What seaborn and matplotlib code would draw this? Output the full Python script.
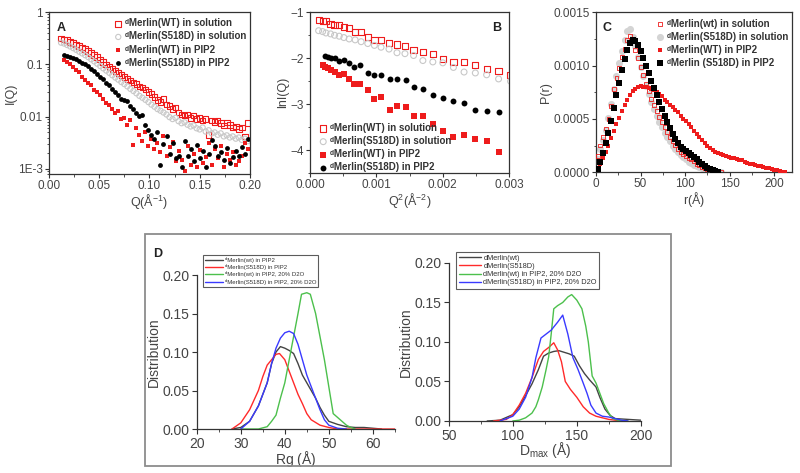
import matplotlib
matplotlib.use("Agg")
import matplotlib.pyplot as plt
import seaborn as sns
from matplotlib.patches import Rectangle
from matplotlib.ticker import AutoMinorLocator, MultipleLocator

# ---------------------- Data ---------------------- #

# Panel A: I(Q) vs Q (log scale)
q_vals = [0.012, 0.015, 0.018, 0.021, 0.024, 0.027, 0.030, 0.033, 0.036, 0.039,
          0.042, 0.045, 0.048, 0.051, 0.054, 0.057, 0.060, 0.063, 0.066, 0.069,
          0.072, 0.075, 0.078, 0.081, 0.084, 0.087, 0.090, 0.093, 0.096, 0.099,
          0.102, 0.105, 0.108, 0.111, 0.114, 0.117, 0.120, 0.123, 0.126, 0.129,
          0.132, 0.135, 0.138, 0.141, 0.144, 0.147, 0.150, 0.153, 0.156, 0.159,
          0.162, 0.165, 0.168, 0.171, 0.174, 0.177, 0.180, 0.183, 0.186, 0.189,
          0.192, 0.195, 0.198]
iq_wt_sol = [0.31, 0.30, 0.29, 0.27, 0.255, 0.24, 0.225, 0.21, 0.195, 0.18,
             0.165, 0.15, 0.138, 0.125, 0.112, 0.10, 0.09, 0.082, 0.074, 0.068,
             0.062, 0.058, 0.053, 0.049, 0.045, 0.042, 0.038, 0.036, 0.033, 0.030,
             0.027, 0.024, 0.021, 0.019, 0.022, 0.017, 0.016, 0.014, 0.015, 0.012,
             0.011, 0.0105, 0.011, 0.0095, 0.0105, 0.009, 0.0095, 0.0085, 0.009, 0.0045,
             0.0085, 0.008, 0.0085, 0.0075, 0.0068, 0.0078, 0.007, 0.0062, 0.0065, 0.0058,
             0.0062, 0.0042, 0.0075]
iq_s518d_sol = [0.26, 0.25, 0.235, 0.22, 0.205, 0.19, 0.175, 0.162, 0.15, 0.138,
                0.125, 0.114, 0.103, 0.093, 0.084, 0.076, 0.069, 0.062, 0.056, 0.051,
                0.046, 0.042, 0.038, 0.034, 0.031, 0.028, 0.025, 0.023, 0.021, 0.019,
                0.017, 0.0155, 0.014, 0.013, 0.012, 0.011, 0.0098, 0.009, 0.0095, 0.0082,
                0.0075, 0.0078, 0.007, 0.0065, 0.0068, 0.006, 0.0057, 0.0062, 0.0052, 0.0055,
                0.0048, 0.005, 0.0045, 0.0048, 0.0042, 0.0044, 0.004, 0.0042, 0.0038, 0.004,
                0.0036, 0.0038, 0.0034]
iq_wt_pip2 = [0.12, 0.11, 0.10, 0.09, 0.078, 0.07, 0.058, 0.05, 0.045, 0.04,
              0.033, 0.029, 0.026, 0.022, 0.018, 0.017, 0.014, 0.012, 0.013, 0.009,
              0.0095, 0.0068, 0.0088, 0.0029, 0.0062, 0.0045, 0.0035, 0.0052, 0.0028, 0.0038,
              0.0024, 0.0032, 0.0021, 0.0042, 0.0018, 0.0026, 0.0033, 0.0014, 0.0022, 0.0015,
              0.0009, 0.0027, 0.0012, 0.0019, 0.0011, 0.0023, 0.0013, 0.0017, 0.0032, 0.0012,
              0.0024, 0.0016, 0.0028, 0.0011, 0.0019, 0.0015, 0.0021, 0.0012, 0.0014, 0.0018,
              0.0031, 0.0024]
iq_s518d_pip2 = [0.15, 0.145, 0.138, 0.13, 0.125, 0.115, 0.108, 0.10, 0.092, 0.083,
                 0.075, 0.065, 0.058, 0.052, 0.045, 0.040, 0.034, 0.030, 0.026, 0.022,
                 0.021, 0.020, 0.016, 0.014, 0.012, 0.0105, 0.011, 0.007, 0.0055, 0.0045,
                 0.0038, 0.005, 0.0012, 0.003, 0.0042, 0.0019, 0.0031, 0.0016, 0.0018, 0.0011,
                 0.0035, 0.0018, 0.0024, 0.0014, 0.0029, 0.0016, 0.0022, 0.0011, 0.0019, 0.0036,
                 0.0027, 0.0018, 0.0021, 0.0015, 0.0025, 0.0013, 0.0017, 0.0022, 0.0018, 0.0026,
                 0.0019, 0.0038]

# Panel B: Guinier plot ln I(Q) vs Q^2
q2_sol = [0.00013, 0.00019, 0.00024, 0.00031, 0.00037, 0.00044, 0.00051, 0.00059, 0.00068,
          0.00077, 0.00087, 0.00097, 0.00107, 0.00119, 0.00131, 0.00143, 0.00156, 0.00170,
          0.00185, 0.00200, 0.00216, 0.00232, 0.00249, 0.00266, 0.00284, 0.00302]
lniq_wt_sol = [-1.17, -1.19, -1.19, -1.26, -1.27, -1.28, -1.32, -1.34, -1.43, -1.43,
               -1.53, -1.60, -1.60, -1.66, -1.70, -1.74, -1.82, -1.87, -1.90, -2.01,
               -2.08, -2.09, -2.14, -2.23, -2.27, -2.36]
lniq_s518d_sol = [-1.40, -1.42, -1.45, -1.47, -1.50, -1.52, -1.55, -1.58, -1.60, -1.64,
                  -1.68, -1.72, -1.76, -1.80, -1.88, -1.90, -1.94, -2.05, -2.08, -2.10,
                  -2.20, -2.30, -2.32, -2.36, -2.45, -2.50]
q2_wt_pip2 = [0.00019, 0.00022, 0.00027, 0.00032, 0.00038, 0.00044, 0.00051, 0.00059, 0.00067,
              0.00076, 0.00087, 0.00097, 0.00107, 0.00120, 0.00131, 0.00144, 0.00157, 0.00170,
              0.00185, 0.00200, 0.00216, 0.00232, 0.00249, 0.00266, 0.00284]
lniq_wt_pip2 = [-2.15, -2.18, -2.22, -2.26, -2.30, -2.36, -2.35, -2.45, -2.57, -2.55,
                -2.70, -2.88, -2.85, -3.12, -3.05, -3.07, -3.25, -3.25, -3.43, -3.58,
                -3.72, -3.67, -3.75, -3.80, -4.05]
q2_s518d_pip2 = [0.00022, 0.00027, 0.00032, 0.00038, 0.00044, 0.00051, 0.00059, 0.00067,
                 0.00076, 0.00087, 0.00097, 0.00107, 0.00120, 0.00131, 0.00144, 0.00156,
                 0.00170, 0.00185, 0.00200, 0.00216, 0.00232, 0.00249, 0.00266, 0.00284]
lniq_s518d_pip2 = [-1.95, -1.97, -1.99, -2.00, -2.06, -2.04, -2.10, -2.20, -2.14, -2.32,
                   -2.36, -2.36, -2.45, -2.46, -2.48, -2.62, -2.67, -2.80, -2.86, -2.92,
                   -2.98, -3.12, -3.14, -3.17]

# Panel C: pair distance distribution P(r)
r_vals = [2, 5, 8, 11, 14, 17, 20, 23, 26, 29, 32, 35, 38, 41, 44, 47, 50, 53, 56, 59,
          62, 65, 68, 71, 74, 77, 80, 83, 86, 89, 92, 95, 98, 101, 104, 107, 110, 113, 116, 119,
          122, 125, 128, 131, 134, 137, 140, 143, 146, 149, 152, 155, 158, 161, 164, 167, 170,
          173, 176, 179, 182, 185, 188, 191, 194, 197, 200, 203, 206, 209, 212]
pr_wt_sol = [0.00015, 0.00025, 0.00033, 0.00041, 0.0005, 0.00062, 0.00078, 0.00088, 0.00098, 0.00108,
             0.00116, 0.00124, 0.00128, 0.00123, 0.00115, 0.00107, 0.00099, 0.00091, 0.00083, 0.00076,
             0.00069, 0.00063, 0.00057, 0.00052, 0.00047, 0.00042, 0.00038, 0.00033, 0.00029, 0.00025,
             0.00022, 0.00019, 0.00017, 0.00015, 0.00013, 0.00012, 0.0001, 0.00008, 0.00007, 0.00005,
             0.00004, 0.00003, 0.00002, 0.000015, 0.00001, 0.000005, 0.000002]
pr_s518d_sol = [0.00012, 0.00022, 0.0003, 0.0004, 0.00051, 0.00064, 0.00078, 0.0009, 0.00102, 0.00114,
                0.00124, 0.00132, 0.00134, 0.00127, 0.00118, 0.00108, 0.00099, 0.0009, 0.00081, 0.00073,
                0.00066, 0.00059, 0.00053, 0.00047, 0.00042, 0.00037, 0.00033, 0.00029, 0.00025, 0.00022,
                0.00019, 0.00016, 0.00014, 0.00012, 0.0001, 0.00009, 0.00007, 0.00006, 0.00005, 0.00004,
                0.00003, 0.00002, 0.000015, 0.00001, 0.000005, 0.000002, 0.0]
pr_wt_pip2 = [0.00003, 0.00008, 0.00013, 0.00019, 0.00025, 0.00032, 0.00039, 0.00045, 0.00051, 0.00057,
              0.00063, 0.00068, 0.00072, 0.00076, 0.00078, 0.0008, 0.00081, 0.0008, 0.0008, 0.00079,
              0.00078, 0.00077, 0.00075, 0.00073, 0.00071, 0.00068, 0.00066, 0.00063, 0.00061, 0.00058,
              0.00056, 0.00053, 0.0005, 0.00048, 0.00045, 0.00042, 0.00039, 0.00036, 0.00033, 0.0003,
              0.00027, 0.00025, 0.00023, 0.00021, 0.00019, 0.00018, 0.00017, 0.00016, 0.00015, 0.00014,
              0.00013, 0.00013, 0.00012, 0.00011, 0.00011, 0.0001, 0.00009, 0.00008, 0.00008, 0.00007,
              0.00006, 0.00006, 0.00005, 0.00004, 0.00004, 0.00003, 0.00002, 0.00002, 0.00001, 0.000005,
              0.0]
pr_s518d_pip2 = [0.00003, 0.0001, 0.00018, 0.00027, 0.00037, 0.00048, 0.0006, 0.00072, 0.00084, 0.00096,
                 0.00106, 0.00115, 0.00121, 0.00124, 0.00123, 0.00119, 0.00114, 0.00107, 0.001, 0.00093,
                 0.00086, 0.00079, 0.00072, 0.00066, 0.00059, 0.00053, 0.00047, 0.00041, 0.00036, 0.00031,
                 0.00027, 0.00024, 0.00022, 0.0002, 0.00018, 0.00016, 0.00014, 0.00012, 0.0001, 0.00008,
                 0.00006, 0.00004, 0.00003, 0.00002, 0.00001, 0.0]

# Panel D (left): Rg distributions
rg_wt_pip2_x = [28, 30, 32, 34, 36, 37, 38, 39, 40, 41, 42, 43, 44, 45, 46, 47, 48, 49, 50, 52, 54, 56, 58, 60, 62]
rg_wt_pip2_y = [0.0, 0.002, 0.01, 0.03, 0.06, 0.085, 0.1, 0.107, 0.105, 0.102, 0.098, 0.085, 0.07, 0.06,
                0.05, 0.04, 0.028, 0.018, 0.01, 0.006, 0.003, 0.002, 0.002, 0.001, 0.0]
rg_s518d_pip2_x = [28, 30, 32, 34, 35, 36, 37, 38, 38.8, 40, 41, 42, 43, 44, 45, 46, 48, 50, 52, 65]
rg_s518d_pip2_y = [0.0, 0.008, 0.025, 0.05, 0.068, 0.083, 0.09, 0.097, 0.098, 0.09, 0.075, 0.06, 0.045,
                   0.033, 0.02, 0.012, 0.005, 0.002, 0.0, 0.0]
rg_wt_d2o_x = [30, 34, 36, 37, 38, 39, 40, 41, 42, 43, 43.8, 45, 45.8, 47, 48, 49, 50, 51, 52, 53, 54, 55, 56]
rg_wt_d2o_y = [0.0, 0.0, 0.003, 0.01, 0.018, 0.04, 0.06, 0.09, 0.12, 0.15, 0.175, 0.177, 0.175, 0.15,
               0.12, 0.09, 0.055, 0.02, 0.015, 0.01, 0.005, 0.002, 0.0]
rg_s518d_d2o_x = [30, 32, 34, 36, 37, 38, 39, 40, 41, 42, 43, 44, 45, 46, 47, 48, 49, 50, 52, 54]
rg_s518d_d2o_y = [0.0, 0.01, 0.03, 0.06, 0.085, 0.105, 0.118, 0.125, 0.127, 0.124, 0.11, 0.09, 0.07,
                  0.055, 0.04, 0.025, 0.012, 0.005, 0.001, 0.0]

# Panel D (right): Dmax distributions
dm_wt_x = [80, 90, 100, 105, 110, 115, 120, 124, 128, 132, 136, 140, 144, 148, 152, 156, 160, 165,
           168, 172, 176, 180, 190, 200]
dm_wt_y = [0.0, 0.001, 0.008, 0.018, 0.032, 0.047, 0.065, 0.082, 0.086, 0.088, 0.089, 0.087, 0.085,
           0.082, 0.07, 0.06, 0.052, 0.043, 0.03, 0.015, 0.007, 0.003, 0.002, 0.001]
dm_s518d_x = [85, 95, 100, 105, 110, 115, 120, 124, 128, 132, 135, 138, 141, 145, 150, 155, 160, 165,
              170, 175, 180, 185]
dm_s518d_y = [0.0, 0.002, 0.008, 0.02, 0.035, 0.055, 0.078, 0.088, 0.093, 0.099, 0.09, 0.075, 0.05,
              0.04, 0.03, 0.018, 0.01, 0.006, 0.004, 0.002, 0.001, 0.0]
dm_wt_d2o_x = [100, 105, 110, 115, 118, 120, 123, 126, 128, 130, 132, 135, 139, 143, 146, 150, 154,
               157, 159, 162, 165, 168, 171, 175, 178, 182, 190]
dm_wt_d2o_y = [0.0, 0.001, 0.004, 0.01, 0.018, 0.027, 0.043, 0.065, 0.081, 0.11, 0.142, 0.146, 0.15,
               0.157, 0.16, 0.153, 0.142, 0.12, 0.1, 0.057, 0.048, 0.035, 0.022, 0.01, 0.003, 0.001, 0.0]
dm_s518d_d2o_x = [90, 100, 105, 110, 115, 118, 122, 126, 130, 135, 139, 143, 147, 151, 155, 158, 161,
                  165, 170, 175, 180, 185, 190]
dm_s518d_d2o_y = [0.0, 0.006, 0.015, 0.03, 0.055, 0.08, 0.105, 0.11, 0.115, 0.125, 0.134, 0.11, 0.08,
                  0.065, 0.048, 0.035, 0.02, 0.01, 0.006, 0.005, 0.003, 0.001, 0.0]

RED = "#ee1c1c"
GRAY = "#c8c8c8"
TXT = "#444444"
SUP_D = "\u1d48"  # small superscript d before "Merlin"

# ---------------------- Helpers ---------------------- #

def style_box_axes(ax):
    for s in ax.spines.values():
        s.set_color("#333333")
        s.set_linewidth(0.9)
    ax.tick_params(direction="out", length=3, width=0.8, pad=1.5, colors="#333333",
                   labelcolor=TXT, labelsize=8.5)
    ax.tick_params(which="minor", direction="out", length=1.8, width=0.6, colors="#333333")


def sup_label(text):
    return SUP_D + text


def small_legend(ax, loc, anchor, size=7, handles=None, labels=None):
    if handles is None:
        handles, labels = ax.get_legend_handles_labels()
    leg = ax.legend(handles, labels, loc=loc, bbox_to_anchor=anchor, frameon=False,
                    prop={"weight": "bold", "size": size},
                    handletextpad=0.1, borderaxespad=0.0, labelspacing=0.32,
                    handlelength=1.1, markerscale=1.0)
    for t in leg.get_texts():
        t.set_color("#333333")
    return leg

# ---------------------- Panels ---------------------- #

def plot_panel_a(fig):
    ax = fig.add_axes([0.0613, 0.632, 0.251, 0.3425])
    sns.scatterplot(x=q_vals, y=iq_wt_sol, ax=ax, marker="s", s=16, facecolor="none",
                    edgecolor=RED, linewidth=0.8, label=sup_label("Merlin(WT) in solution"))
    sns.scatterplot(x=q_vals, y=iq_s518d_sol, ax=ax, marker="o", s=14, facecolor="none",
                    edgecolor=GRAY, linewidth=0.8, label=sup_label("Merlin(S518D) in solution"))
    sns.scatterplot(x=q_vals[1:], y=iq_wt_pip2, ax=ax, marker="s", s=12, color=RED,
                    edgecolor=RED, linewidth=0, label=sup_label("Merlin(WT) in PIP2"))
    sns.scatterplot(x=q_vals[1:], y=iq_s518d_pip2, ax=ax, marker="o", s=12, color="black",
                    edgecolor="black", linewidth=0, label=sup_label("Merlin(S518D) in PIP2"))
    ax.set_yscale("log")
    ax.set_xlim(0, 0.2)
    ax.set_ylim(8e-4, 1)
    ax.set_xticks([0.0, 0.05, 0.10, 0.15, 0.20])
    ax.set_xticklabels(["0.00", "0.05", "0.10", "0.15", "0.20"])
    ax.xaxis.set_minor_locator(AutoMinorLocator(2))
    ax.set_yticks([1e-3, 1e-2, 1e-1, 1])
    ax.set_yticklabels(["1E-3", "0.01", "0.1", "1"])
    ax.set_xlabel(r"Q($\mathrm{\AA}^{-1}$)", fontsize=9, color=TXT, labelpad=0)
    ax.set_ylabel("I(Q)", fontsize=9, color=TXT, labelpad=1)
    style_box_axes(ax)
    small_legend(ax, "upper right", (1.0, 0.985))
    ax.text(0.04, 0.94, "A", transform=ax.transAxes, fontsize=9, fontweight="bold",
            va="top", color="#222222")


def plot_panel_b(fig):
    ax = fig.add_axes([0.3875, 0.634, 0.249, 0.340])
    sns.scatterplot(x=q2_sol, y=lniq_wt_sol, ax=ax, marker="s", s=20, facecolor="none",
                    edgecolor=RED, linewidth=0.8, label=sup_label("Merlin(WT) in solution"))
    sns.scatterplot(x=q2_sol, y=lniq_s518d_sol, ax=ax, marker="o", s=18, facecolor="none",
                    edgecolor=GRAY, linewidth=0.8, label=sup_label("Merlin(S518D) in solution"))
    sns.scatterplot(x=q2_wt_pip2, y=lniq_wt_pip2, ax=ax, marker="s", s=20, color=RED,
                    edgecolor=RED, linewidth=0, label=sup_label("Merlin(WT) in PIP2"))
    sns.scatterplot(x=q2_s518d_pip2, y=lniq_s518d_pip2, ax=ax, marker="o", s=18, color="black",
                    edgecolor="black", linewidth=0, label=sup_label("Merlin(S518D) in PIP2"))
    ax.set_xlim(0, 0.003)
    ax.set_ylim(-4.5, -1)
    ax.set_xticks([0.0, 0.001, 0.002, 0.003])
    ax.set_xticklabels(["0.000", "0.001", "0.002", "0.003"])
    ax.xaxis.set_minor_locator(AutoMinorLocator(2))
    ax.yaxis.set_major_locator(MultipleLocator(1))
    ax.yaxis.set_minor_locator(AutoMinorLocator(2))
    ax.set_xlabel(r"Q$^2$($\mathrm{\AA}^{-2}$)", fontsize=9, color=TXT, labelpad=0)
    ax.set_ylabel("lnI(Q)", fontsize=9, color=TXT, labelpad=1)
    style_box_axes(ax)
    small_legend(ax, "lower left", (0.02, -0.02))
    ax.text(0.96, 0.94, "B", transform=ax.transAxes, fontsize=9, fontweight="bold",
            va="top", ha="right", color="#222222")


def plot_panel_c(fig):
    ax = fig.add_axes([0.745, 0.636, 0.245, 0.338])
    sns.scatterplot(x=r_vals[:len(pr_s518d_sol)], y=pr_s518d_sol, ax=ax, marker="o", s=26,
                    color="#d4d4d4", edgecolor="#d4d4d4", linewidth=0,
                    label=sup_label("Merlin(S518D) in solution"), zorder=2)
    sns.scatterplot(x=r_vals[:len(pr_wt_sol)], y=pr_wt_sol, ax=ax, marker="s", s=8, facecolor="none",
                    edgecolor=RED, linewidth=0.6, label=sup_label("Merlin(wt) in solution"), zorder=3)
    sns.scatterplot(x=r_vals[:len(pr_wt_pip2)], y=pr_wt_pip2, ax=ax, marker="s", s=11, color=RED,
                    edgecolor=RED, linewidth=0, label=sup_label("Merlin(WT) in PIP2"), zorder=3)
    sns.scatterplot(x=r_vals[:len(pr_s518d_pip2)], y=pr_s518d_pip2, ax=ax, marker="s", s=14,
                    color="black", edgecolor="black", linewidth=0,
                    label=sup_label("Merlin (S518D) in PIP2"), zorder=4)
    ax.set_xlim(0, 220)
    ax.set_ylim(0, 0.0015)
    ax.set_xticks([0, 50, 100, 150, 200])
    ax.xaxis.set_minor_locator(AutoMinorLocator(2))
    ax.set_yticks([0.0, 0.0005, 0.0010, 0.0015])
    ax.set_yticklabels(["0.0000", "0.0005", "0.0010", "0.0015"])
    ax.yaxis.set_minor_locator(AutoMinorLocator(2))
    ax.set_xlabel(r"r($\mathrm{\AA}$)", fontsize=9, color=TXT, labelpad=0)
    ax.set_ylabel("P(r)", fontsize=9, color=TXT, labelpad=1)
    style_box_axes(ax)
    handles, labels = ax.get_legend_handles_labels()
    order = [1, 0, 2, 3]
    small_legend(ax, "upper right", (1.0, 0.985),
                 handles=[handles[i] for i in order], labels=[labels[i] for i in order])
    ax.text(0.035, 0.94, "C", transform=ax.transAxes, fontsize=9, fontweight="bold",
            va="top", color="#222222")


def style_open_axes(ax):
    sns.despine(ax=ax)
    for s in ("left", "bottom"):
        ax.spines[s].set_color("#333333")
        ax.spines[s].set_linewidth(0.9)
    ax.tick_params(direction="out", length=3.5, width=0.8, pad=2, colors="#333333",
                   labelcolor=TXT, labelsize=10)
    ax.tick_params(which="minor", direction="out", length=2, width=0.6, colors="#333333")


def d_legend(ax, anchor, size, spacing):
    leg = ax.legend(loc="upper left", bbox_to_anchor=anchor, frameon=True, fancybox=False,
                    prop={"size": size}, handlelength=3.0, handletextpad=0.3,
                    labelspacing=spacing, borderpad=0.35, borderaxespad=0.0)
    leg.get_frame().set_edgecolor("#333333")
    leg.get_frame().set_linewidth(0.8)
    for t in leg.get_texts():
        t.set_color("#333333")


def plot_panel_d(fig):
    box = Rectangle((0.181, 0.0148), 0.6575, 0.4905, transform=fig.transFigure,
                    fill=False, edgecolor="#8c8c8c", linewidth=1.3)
    fig.patches.append(box)
    fig.text(0.192, 0.475, "D", fontsize=9, fontweight="bold", va="top", color="#222222")

    # Rg distribution
    ax = fig.add_axes([0.246, 0.093, 0.2475, 0.3256])
    lines_rg = [
        (rg_wt_pip2_x, rg_wt_pip2_y, "#444444", sup_label("Merlin(wt) in PIP2")),
        (rg_s518d_pip2_x, rg_s518d_pip2_y, "#ff2a2a", sup_label("Merlin(S518D) in PIP2")),
        (rg_wt_d2o_x, rg_wt_d2o_y, "#4cc04c", sup_label("Merlin(wt) in PIP2, 20% D2O")),
        (rg_s518d_d2o_x, rg_s518d_d2o_y, "#3a3aff", sup_label("Merlin(S518D) in PIP2, 20% D2O")),
    ]
    for xs, ys, c, lab in lines_rg:
        sns.lineplot(x=xs, y=ys, ax=ax, color=c, linewidth=1.0, label=lab, sort=False)
    ax.set_xlim(20, 65)
    ax.set_ylim(0, 0.2)
    ax.set_xticks([20, 30, 40, 50, 60])
    ax.xaxis.set_minor_locator(AutoMinorLocator(2))
    ax.set_yticks([0.0, 0.05, 0.10, 0.15, 0.20])
    ax.set_yticklabels(["0.00", "0.05", "0.10", "0.15", "0.20"])
    ax.set_xlabel(r"Rg ($\mathrm{\AA}$)", fontsize=10, color=TXT, labelpad=-1)
    ax.set_ylabel("Distribution", fontsize=10, color=TXT, labelpad=1)
    style_open_axes(ax)
    d_legend(ax, (0.03, 1.13), 4.3, 0.2)

    # Dmax distribution
    ax2 = fig.add_axes([0.561, 0.110, 0.24, 0.334])
    lines_dm = [
        (dm_wt_x, dm_wt_y, "#444444", "dMerlin(wt)"),
        (dm_s518d_x, dm_s518d_y, "#ff2a2a", "dMerlin(S518D)"),
        (dm_wt_d2o_x, dm_wt_d2o_y, "#4cc04c", "dMerlin(wt) in PIP2, 20% D2O"),
        (dm_s518d_d2o_x, dm_s518d_d2o_y, "#3a3aff", "dMerlin(S518D) in PIP2, 20% D2O"),
    ]
    for xs, ys, c, lab in lines_dm:
        sns.lineplot(x=xs, y=ys, ax=ax2, color=c, linewidth=1.0, label=lab, sort=False)
    ax2.set_xlim(50, 200)
    ax2.set_ylim(0, 0.2)
    ax2.set_xticks([50, 100, 150, 200])
    ax2.xaxis.set_minor_locator(AutoMinorLocator(2))
    ax2.set_yticks([0.0, 0.05, 0.10, 0.15, 0.20])
    ax2.set_yticklabels(["0.00", "0.05", "0.10", "0.15", "0.20"])
    ax2.set_xlabel(r"D$_{\mathrm{max}}$ ($\mathrm{\AA}$)", fontsize=10, color=TXT, labelpad=-2)
    ax2.set_ylabel("Distribution", fontsize=10, color=TXT, labelpad=1)
    style_open_axes(ax2)
    d_legend(ax2, (0.04, 1.07), 5.3, 0.15)

# ---------------------- Main Execution ---------------------- #

def main():
    sns.set_theme(style="ticks")
    plt.rcParams["font.family"] = ["Liberation Sans", "DejaVu Sans"]
    plt.rcParams["mathtext.fontset"] = "custom"
    plt.rcParams["mathtext.rm"] = "Liberation Sans"
    plt.rcParams["mathtext.bf"] = "Liberation Sans:bold"

    fig = plt.figure(figsize=(8, 4.73), dpi=100)
    plot_panel_a(fig)
    plot_panel_b(fig)
    plot_panel_c(fig)
    plot_panel_d(fig)
    fig.savefig("out.png", dpi=100)


if __name__ == "__main__":
    main()
